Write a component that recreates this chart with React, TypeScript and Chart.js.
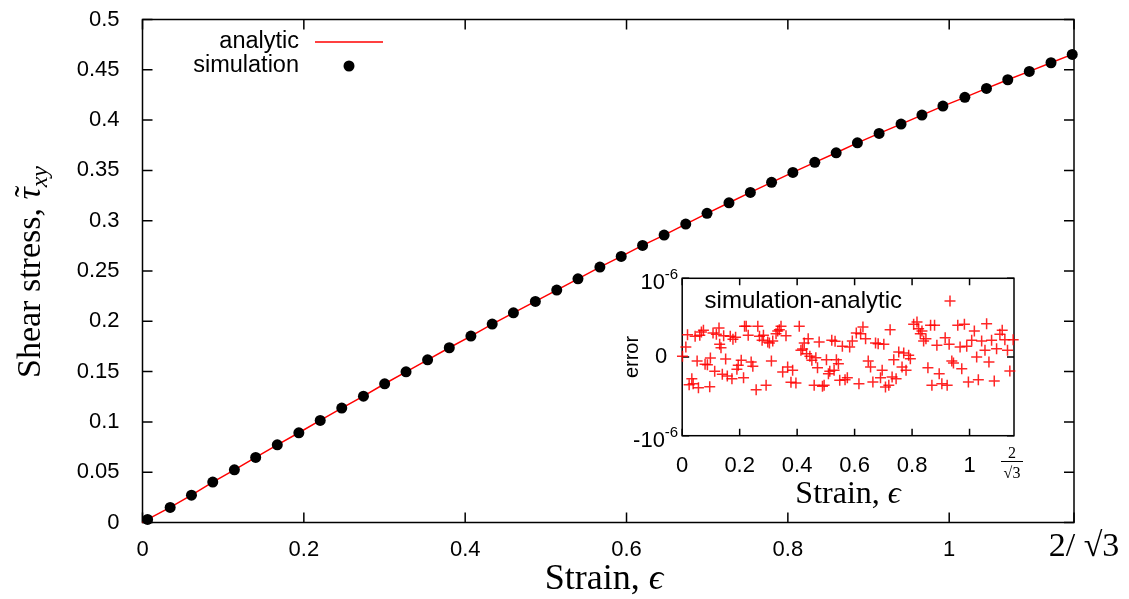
import React, { useEffect, useRef } from 'react';
import { Chart, registerables } from 'chart.js';

Chart.register(...registerables);

const SANS = '"Liberation Sans", Arial, sans-serif';
const SERIF = '"Liberation Serif", "Times New Roman", serif';

// ---------- main chart data ----------
const X_MAX = 1.1547; // 2/sqrt(3)
const mainXTicks = [0, 0.2, 0.4, 0.6, 0.8, 1, 1.1547];
const mainXTickLabels = ['0', '0.2', '0.4', '0.6', '0.8', '1', ''];
const mainYTicks = [0, 0.05, 0.1, 0.15, 0.2, 0.25, 0.3, 0.35, 0.4, 0.45, 0.5];
const mainYTickLabels = ['0', '0.05', '0.1', '0.15', '0.2', '0.25', '0.3', '0.35', '0.4', '0.45', '0.5'];

const simStrain = [
  0.0063, 0.0343, 0.0607, 0.0871, 0.1139, 0.1403, 0.1671, 0.1938, 0.2203, 0.247, 0.2739,
  0.3002, 0.3267, 0.3534, 0.3803, 0.4071, 0.4335, 0.4598, 0.487, 0.5135, 0.5398, 0.567,
  0.5934, 0.6199, 0.6466, 0.6734, 0.6998, 0.727, 0.7535, 0.7798, 0.8062, 0.8334, 0.8599,
  0.8862, 0.9131, 0.9403, 0.9662, 0.9922, 1.0194, 1.0462, 1.0726, 1.0993, 1.1262, 1.1525,
];
const simStress = [
  0.0031, 0.015, 0.0272, 0.0402, 0.0524, 0.0647, 0.0772, 0.0892, 0.1015, 0.1137, 0.1256,
  0.1379, 0.1498, 0.1617, 0.1737, 0.1853, 0.1972, 0.2084, 0.2198, 0.231, 0.2422, 0.2539,
  0.2645, 0.2754, 0.2857, 0.2966, 0.3073, 0.3178, 0.3281, 0.3381, 0.348, 0.358, 0.3675,
  0.3774, 0.3868, 0.396, 0.405, 0.4139, 0.4226, 0.4315, 0.4401, 0.4484, 0.457, 0.4653,
];
const analyticStrain = [0, ...simStrain];
const analyticStress = [0, ...simStress];

// ---------- inset data (error, in units of 1e-6) ----------
const insetXTicks = [0, 0.2, 0.4, 0.6, 0.8, 1];
const insetXTickLabels = ['0', '0.2', '0.4', '0.6', '0.8', '1'];
const insetYTicks = [-1, 0, 1];
const insetYTickBase = ['-10', '0', '10'];
const insetYTickExp = ['-6', '', '-6'];

const errStrain = [
  0.001, 0.0127, 0.0185, 0.0242, 0.0335, 0.0381, 0.045, 0.0519, 0.0565, 0.0612, 0.0669,
  0.0739, 0.0796, 0.0877, 0.0958, 0.0981, 0.1073, 0.1131, 0.1189, 0.1281, 0.1304, 0.135,
  0.1396, 0.1443, 0.1512, 0.157, 0.1673, 0.1731, 0.1766, 0.1858, 0.1904, 0.195,
  0.2054, 0.2135, 0.217, 0.2227, 0.2297, 0.24, 0.2458, 0.2574, 0.2631, 0.2689, 0.2781,
  0.2827, 0.292, 0.2978, 0.3035, 0.3104, 0.3151, 0.3266, 0.3324, 0.3381, 0.3439, 0.3497,
  0.3612, 0.367, 0.3785, 0.3843, 0.3958,
  0.4074, 0.4132, 0.4189, 0.4247, 0.4328, 0.4385, 0.4443, 0.4512, 0.4593, 0.4651, 0.4709,
  0.4766, 0.4882, 0.4939, 0.502, 0.5089, 0.5136, 0.5205, 0.5286, 0.532, 0.5366, 0.5436,
  0.5482, 0.5574, 0.5667, 0.5747, 0.5828, 0.592,
  0.6059, 0.6151, 0.6209, 0.629, 0.6382, 0.6474, 0.6555, 0.6636, 0.6728, 0.682, 0.6901,
  0.6959, 0.7017, 0.7074, 0.719, 0.7236, 0.7305, 0.7363, 0.7444, 0.7536, 0.7651, 0.7709,
  0.779, 0.7882, 0.794,
  0.8055, 0.8171, 0.8228, 0.8286, 0.8344, 0.8402, 0.8482, 0.8551, 0.8644, 0.869, 0.8782,
  0.8863, 0.8944, 0.9036, 0.9152, 0.9221, 0.929, 0.9383, 0.944, 0.959, 0.9671, 0.9729,
  0.9821, 0.9902, 0.996,
  1.0075, 1.0167, 1.0248, 1.0306, 1.0421, 1.0537, 1.0594, 1.0675, 1.0767, 1.086, 1.0941,
  1.1056, 1.1137, 1.1229, 1.1321, 1.1402, 1.1518,
];
const errValue = [
  0.008, 0.127, 0.284, -0.352, -0.275, -0.339, 0.263, -0.051, -0.39, 0.275, 0.318,
  0.339, -0.093, -0.097, -0.377, -0.013, 0.305, -0.182, 0.288, 0.369, 0.161, 0.119,
  -0.22, 0.271, -0.025, -0.242, 0.263, -0.275, 0.225, 0.25, -0.157, -0.106,
  -0.042, -0.263, 0.39, 0.39, 0.275, -0.064, -0.119, -0.415, 0.39, 0.263, 0.212,
  0.275, -0.36, 0.191, 0.178, -0.051, 0.203, 0.297, 0.331, 0.347, 0.39, -0.191,
  0.271, -0.127, -0.322, -0.169, -0.331,
  0.39, 0.085, 0.102, 0.178, 0.042, 0.233, 0.008, -0.042, -0.36, -0.008, -0.136,
  0.191, -0.373, -0.36, -0.034, -0.212, -0.182, 0.212, -0.169, 0.199, -0.034, -0.085,
  -0.297, 0.136, -0.288, -0.263, 0.127, 0.203,
  0.305, -0.339, 0.297, 0.381, 0.233, -0.051, -0.127, -0.318, 0.178, 0.169, -0.263,
  -0.169, 0.161, -0.381, -0.36, 0.347, -0.254, -0.034, -0.275, 0.064, -0.127, 0.051,
  -0.169, 0.021, -0.021,
  0.415, 0.445, 0.36, 0.297, 0.331, 0.203, 0.233, -0.136, 0.403, -0.36, 0.403,
  0.148, -0.212, -0.339, 0.246, -0.36, 0.161, -0.051, -0.076, 0.403, 0.127, -0.148,
  0.415, 0.136, -0.318,
  0.212, 0.331, 0.0, -0.288, 0.203, 0.085, 0.424, -0.064, 0.212, -0.305, 0.106,
  0.288, 0.339, 0.22, 0.085, -0.178, 0.22,
];

// inset canvas placement on the page
const IN_LEFT = 560;
const IN_TOP = 260;
const IN_W = 480;
const IN_H = 250;

type Run = { t: string; f: string; dy?: number };

function drawRuns(ctx: CanvasRenderingContext2D, runs: Run[], cx: number, y: number) {
  let total = 0;
  const widths = runs.map((r) => {
    ctx.font = r.f;
    const w = ctx.measureText(r.t).width;
    total += w;
    return w;
  });
  let x = cx - total / 2;
  const pos: number[] = [];
  runs.forEach((r, i) => {
    ctx.font = r.f;
    ctx.textAlign = 'left';
    ctx.textBaseline = 'alphabetic';
    ctx.fillText(r.t, x, y + (r.dy || 0));
    pos.push(x);
    x += widths[i];
  });
  return { pos, widths };
}

const mainDecor = {
  id: 'mainDecor',
  beforeDatasetsDraw(chart: any) {
    const { ctx, chartArea } = chart;
    const { left, right, top, bottom } = chartArea;
    const xs = chart.scales.x;
    const ys = chart.scales.y;
    ctx.save();
    ctx.strokeStyle = '#000';
    ctx.lineWidth = 1.5;
    ctx.strokeRect(left, top, right - left, bottom - top);
    const TL = 10;
    ctx.beginPath();
    mainXTicks.forEach((v) => {
      const px = xs.getPixelForValue(v);
      ctx.moveTo(px, bottom);
      ctx.lineTo(px, bottom - TL);
      ctx.moveTo(px, top);
      ctx.lineTo(px, top + TL);
    });
    mainYTicks.forEach((v) => {
      const py = ys.getPixelForValue(v);
      ctx.moveTo(left, py);
      ctx.lineTo(left + TL, py);
      ctx.moveTo(right, py);
      ctx.lineTo(right - TL, py);
    });
    ctx.stroke();
    ctx.restore();
  },
  afterDraw(chart: any) {
    const { ctx } = chart;
    ctx.save();
    ctx.fillStyle = '#000';
    // legend
    ctx.font = `23.5px ${SANS}`;
    ctx.textAlign = 'right';
    ctx.textBaseline = 'middle';
    ctx.fillText('analytic', 299, 42);
    ctx.fillText('simulation', 299, 66);
    ctx.strokeStyle = '#ff0000';
    ctx.lineWidth = 1.5;
    ctx.beginPath();
    ctx.moveTo(315, 42);
    ctx.lineTo(383, 42);
    ctx.stroke();
    ctx.beginPath();
    ctx.arc(349, 66, 5.5, 0, Math.PI * 2);
    ctx.fill();

    // special tick label 2/√3
    ctx.font = `34px ${SERIF}`;
    ctx.textAlign = 'center';
    ctx.textBaseline = 'alphabetic';
    ctx.fillText('2/ \u221A3', 1084, 556);

    // x title
    drawRuns(ctx, [
      { t: 'Strain, ', f: `36px ${SERIF}` },
      { t: '\u03F5', f: `italic 36px ${SERIF}` },
    ], 604, 589);

    // y title (rotated)
    ctx.translate(40, 272);
    ctx.rotate(-Math.PI / 2);
    const r = drawRuns(ctx, [
      { t: 'Shear stress, ', f: `34px ${SERIF}` },
      { t: '\u03C4', f: `italic 34px ${SERIF}` },
      { t: 'xy', f: `italic 24px ${SERIF}`, dy: 7 },
    ], 0, 0);
    ctx.font = `34px ${SERIF}`;
    ctx.textAlign = 'center';
    ctx.fillText('\u02DC', r.pos[1] + r.widths[1] / 2 + 2, -2);
    ctx.restore();
  },
};

const insetDecor = {
  id: 'insetDecor',
  beforeDatasetsDraw(chart: any) {
    const { ctx, chartArea } = chart;
    const { left, right, top, bottom } = chartArea;
    const xs = chart.scales.x;
    const ys = chart.scales.y;
    ctx.save();
    ctx.strokeStyle = '#000';
    ctx.lineWidth = 1.5;
    ctx.strokeRect(left, top, right - left, bottom - top);
    const TL = 7;
    ctx.beginPath();
    insetXTicks.forEach((v) => {
      const px = xs.getPixelForValue(v);
      ctx.moveTo(px, bottom);
      ctx.lineTo(px, bottom - TL);
      ctx.moveTo(px, top);
      ctx.lineTo(px, top + TL);
    });
    insetYTicks.forEach((v) => {
      const py = ys.getPixelForValue(v);
      ctx.moveTo(left, py);
      ctx.lineTo(left + TL, py);
      ctx.moveTo(right, py);
      ctx.lineTo(right - TL, py);
    });
    ctx.stroke();

    // y tick labels with superscript exponents
    ctx.fillStyle = '#000';
    ctx.textAlign = 'right';
    ctx.textBaseline = 'middle';
    insetYTicks.forEach((v, i) => {
      const py = ys.getPixelForValue(v);
      const exp = insetYTickExp[i];
      if (exp) {
        ctx.font = `15px ${SANS}`;
        const sw = ctx.measureText(exp).width;
        ctx.fillText(exp, left - 4, py - 3);
        ctx.font = `22px ${SANS}`;
        ctx.fillText(insetYTickBase[i], left - 4 - sw, py + 5);
      } else {
        ctx.font = `22px ${SANS}`;
        ctx.fillText(insetYTickBase[i], left - 15, py);
      }
    });
    ctx.restore();
  },
  afterDraw(chart: any) {
    const { ctx } = chart;
    const ox = IN_LEFT;
    const oy = IN_TOP;
    ctx.save();
    ctx.fillStyle = '#000';
    // legend
    ctx.font = `24px ${SANS}`;
    ctx.textAlign = 'right';
    ctx.textBaseline = 'middle';
    ctx.fillText('simulation-analytic', 902 - ox, 301 - oy);
    ctx.strokeStyle = 'rgba(255,0,0,0.85)';
    ctx.lineWidth = 1.5;
    ctx.beginPath();
    ctx.moveTo(950 - ox - 5.5, 301 - oy);
    ctx.lineTo(950 - ox + 5.5, 301 - oy);
    ctx.moveTo(950 - ox, 301 - oy - 5.5);
    ctx.lineTo(950 - ox, 301 - oy + 5.5);
    ctx.stroke();

    // fraction 2/√3 tick label
    const fx = 1012 - ox;
    ctx.font = `16px ${SERIF}`;
    ctx.textAlign = 'center';
    ctx.textBaseline = 'alphabetic';
    ctx.fillText('2', fx, 458 - oy);
    ctx.fillText('\u221A3', fx, 478 - oy);
    ctx.strokeStyle = '#000';
    ctx.lineWidth = 1;
    ctx.beginPath();
    ctx.moveTo(fx - 11, 461.5 - oy);
    ctx.lineTo(fx + 11, 461.5 - oy);
    ctx.stroke();

    // x title
    drawRuns(ctx, [
      { t: 'Strain, ', f: `32px ${SERIF}` },
      { t: '\u03F5', f: `italic 32px ${SERIF}` },
    ], 848 - ox, 503 - oy);

    // y title
    ctx.translate(638 - ox, 357 - oy);
    ctx.rotate(-Math.PI / 2);
    ctx.font = `20px ${SANS}`;
    ctx.textAlign = 'center';
    ctx.textBaseline = 'alphabetic';
    ctx.fillText('error', 0, 0);
    ctx.restore();
  },
};

export default function App() {
  const mainRef = useRef<HTMLCanvasElement>(null);
  const insetRef = useRef<HTMLCanvasElement>(null);

  useEffect(() => {
    document.body.style.margin = '0';
    const main = new Chart(mainRef.current as HTMLCanvasElement, {
      type: 'scatter',
      data: {
        datasets: [
          {
            label: 'simulation',
            data: simStrain.map((x, i) => ({ x, y: simStress[i] })),
            showLine: false,
            pointRadius: 5.5,
            pointHoverRadius: 5.5,
            pointBackgroundColor: '#000',
            pointBorderWidth: 0,
            borderWidth: 0,
            order: 0,
            clip: false,
          } as any,
          {
            label: 'analytic',
            data: analyticStrain.map((x, i) => ({ x, y: analyticStress[i] })),
            showLine: true,
            borderColor: '#ff0000',
            borderWidth: 1.5,
            pointRadius: 0,
            pointHoverRadius: 0,
            tension: 0,
            order: 1,
            clip: false,
          } as any,
        ],
      },
      options: {
        responsive: false,
        animation: false,
        devicePixelRatio: 1,
        events: [],
        layout: { padding: { left: 0, top: 19.5, right: 55, bottom: 0 } },
        plugins: { legend: { display: false }, tooltip: { enabled: false } },
        scales: {
          x: {
            type: 'linear',
            min: 0,
            max: X_MAX,
            afterBuildTicks: (s: any) => {
              s.ticks = mainXTicks.map((v) => ({ value: v }));
            },
            afterFit: (s: any) => {
              s.height = 76.5;
              s.paddingLeft = 0;
              s.paddingRight = 0;
            },
            grid: { display: false },
            border: { display: false },
            ticks: {
              autoSkip: false,
              maxRotation: 0,
              padding: 6,
              color: '#000',
              font: { family: SANS, size: 22 },
              callback: (_v: any, i: number) => mainXTickLabels[i],
            },
          },
          y: {
            type: 'linear',
            min: 0,
            max: 0.5,
            afterBuildTicks: (s: any) => {
              s.ticks = mainYTicks.map((v) => ({ value: v }));
            },
            afterFit: (s: any) => {
              s.width = 142.5;
              s.paddingTop = 0;
              s.paddingBottom = 0;
            },
            grid: { display: false },
            border: { display: false },
            ticks: {
              autoSkip: false,
              padding: 15,
              color: '#000',
              font: { family: SANS, size: 22 },
              callback: (_v: any, i: number) => mainYTickLabels[i],
            },
          },
        },
      } as any,
      plugins: [mainDecor],
    });

    const inset = new Chart(insetRef.current as HTMLCanvasElement, {
      type: 'scatter',
      data: {
        datasets: [
          {
            label: 'simulation-analytic',
            data: errStrain.map((x, i) => ({ x, y: errValue[i] })),
            showLine: false,
            pointStyle: 'cross',
            pointRadius: 5.5,
            pointHoverRadius: 5.5,
            borderColor: 'rgba(255,0,0,0.85)',
            pointBorderColor: 'rgba(255,0,0,0.85)',
            pointBorderWidth: 1.5,
            clip: false,
          } as any,
        ],
      },
      options: {
        responsive: false,
        animation: false,
        devicePixelRatio: 1,
        events: [],
        layout: { padding: { left: 0, top: 18.3, right: 26, bottom: 0 } },
        plugins: { legend: { display: false }, tooltip: { enabled: false } },
        scales: {
          x: {
            type: 'linear',
            min: 0,
            max: X_MAX,
            afterBuildTicks: (s: any) => {
              s.ticks = insetXTicks.map((v) => ({ value: v }));
            },
            afterFit: (s: any) => {
              s.height = 74.3;
              s.paddingLeft = 0;
              s.paddingRight = 0;
            },
            grid: { display: false },
            border: { display: false },
            ticks: {
              autoSkip: false,
              maxRotation: 0,
              padding: 9,
              color: '#000',
              font: { family: SANS, size: 22 },
              callback: (_v: any, i: number) => insetXTickLabels[i],
            },
          },
          y: {
            type: 'linear',
            min: -1,
            max: 1,
            afterBuildTicks: (s: any) => {
              s.ticks = insetYTicks.map((v) => ({ value: v }));
            },
            afterFit: (s: any) => {
              s.width = 122.2;
              s.paddingTop = 0;
              s.paddingBottom = 0;
            },
            grid: { display: false },
            border: { display: false },
            ticks: {
              display: false,
            },
          },
        },
      } as any,
      plugins: [insetDecor],
    });

    return () => {
      main.destroy();
      inset.destroy();
    };
  }, []);

  return (
    <div style={{ position: 'relative', width: 1129, height: 599, background: '#fff' }}>
      <canvas
        ref={mainRef}
        width={1129}
        height={599}
        style={{ position: 'absolute', left: 0, top: 0 }}
      />
      <canvas
        ref={insetRef}
        width={IN_W}
        height={IN_H}
        style={{ position: 'absolute', left: IN_LEFT, top: IN_TOP }}
      />
    </div>
  );
}
